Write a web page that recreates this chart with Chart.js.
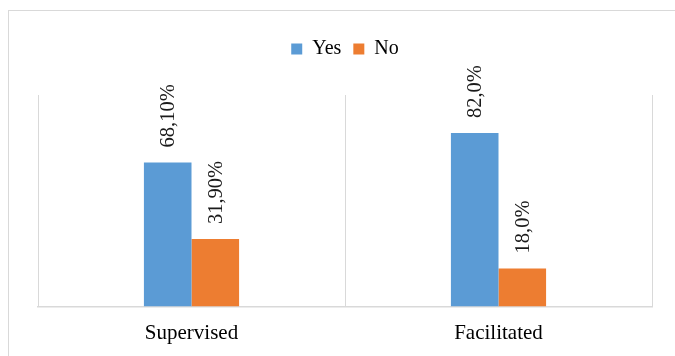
<!DOCTYPE html>
<html>
<head>
<meta charset="utf-8">
<script src="https://cdn.jsdelivr.net/npm/chart.js@4.4.1/dist/chart.umd.min.js"></script>
<style>
  html, body { margin: 0; padding: 0; background: #fff; }
  #frame {
    position: absolute; left: 8px; top: 10px; width: 680px; height: 360px;
    border: 1px solid #d9d9d9; box-sizing: border-box;
  }
  #wrap { position: absolute; left: 0; top: 0; width: 675px; height: 356px; }
</style>
</head>
<body>
<div id="frame"></div>
<div id="wrap"><canvas id="surveyChart"></canvas></div>
<script>
// Chart data
const categories = ["Supervised", "Facilitated"];
const yesValues = [68.1, 82.0];
const noValues = [31.9, 18.0];
const yesLabels = ["68,10%", "82,0%"];
const noLabels = ["31,90%", "18,0%"];

const serif = "'Liberation Serif', 'Times New Roman', serif";

// keep the legend box tall so the plot starts lower
const legendHeightPlugin = {
  id: "legendHeight",
  beforeLayout(chart) {
    const legend = chart.legend;
    if (legend && !legend._patched) {
      const origFit = legend.fit;
      legend.fit = function () {
        origFit.call(this);
        this.height = 68;
      };
      legend._patched = true;
    }
  }
};

// rotated value labels above the bars
const valueLabelPlugin = {
  id: "valueLabels",
  afterDatasetsDraw(chart) {
    const ctx = chart.ctx;
    chart.data.datasets.forEach((ds, i) => {
      const meta = chart.getDatasetMeta(i);
      meta.data.forEach((bar, j) => {
        ctx.save();
        ctx.translate(bar.x + 1, bar.y - 15);
        ctx.rotate(-Math.PI / 2);
        ctx.font = "20.5px " + serif;
        ctx.fillStyle = "#1a1a1a";
        ctx.textAlign = "left";
        ctx.textBaseline = "middle";
        ctx.fillText(ds.valueLabels[j], 0, 0);
        ctx.restore();
      });
    });
  }
};

new Chart(document.getElementById("surveyChart"), {
  type: "bar",
  data: {
    labels: categories,
    datasets: [
      { label: "Yes", data: yesValues, valueLabels: yesLabels, backgroundColor: "#5b9bd5" },
      { label: "No", data: noValues, valueLabels: noLabels, backgroundColor: "#ed7d31" }
    ]
  },
  options: {
    responsive: true,
    maintainAspectRatio: false,
    animation: false,
    categoryPercentage: 0.31,
    barPercentage: 1.0,
    layout: { padding: { top: 27, left: 38, right: 23, bottom: 0 } },
    plugins: {
      tooltip: { enabled: false },
      legend: {
        position: "top",
        labels: {
          boxWidth: 11,
          boxHeight: 11,
          padding: 12,
          color: "#000",
          font: { family: serif, size: 20 }
        }
      }
    },
    scales: {
      x: {
        grid: { offset: true, color: "#d9d9d9", lineWidth: 1, drawTicks: false },
        border: { color: "#d9d9d9", width: 1.5 },
        ticks: { color: "#000", padding: 14, font: { family: serif, size: 21 } },
        afterFit(scale) { scale.height = 49.5; }
      },
      y: {
        display: false,
        min: 0,
        max: 100
      }
    }
  },
  plugins: [legendHeightPlugin, valueLabelPlugin]
});
</script>
</body>
</html>
